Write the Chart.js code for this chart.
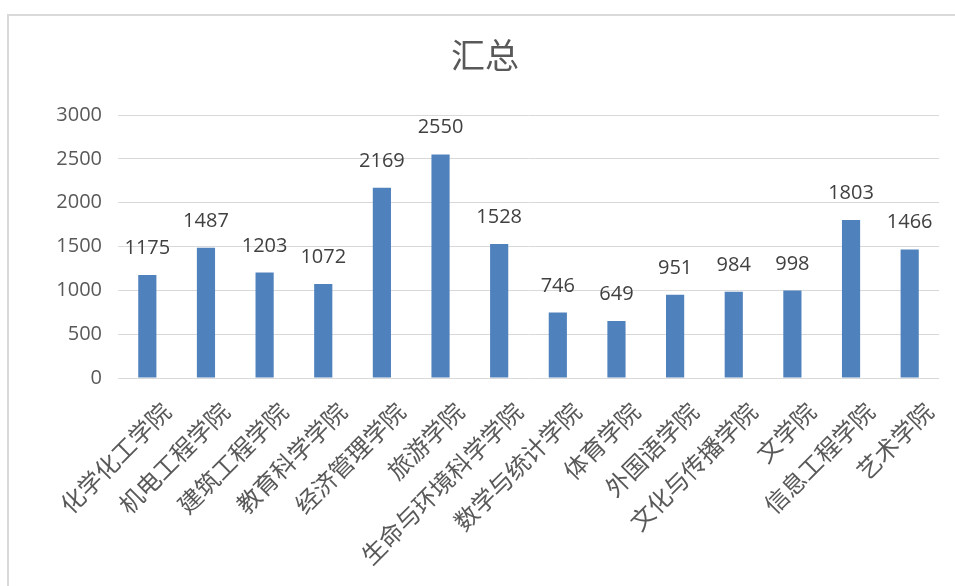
<!DOCTYPE html>
<html>
<head>
<meta charset="utf-8">
<script src="https://cdn.jsdelivr.net/npm/chart.js@4/dist/chart.umd.min.js"></script>
<style>
  html, body { margin: 0; padding: 0; background: #fff; overflow: hidden; }
  #frame { position: absolute; left: 7px; top: 14px; width: 1000px; height: 1000px; border: 2px solid #d9d9d9; box-sizing: border-box; }
  #wrap { position: absolute; left: 0; top: 0; width: 955px; height: 586px; }
</style>
</head>
<body>
<div id="frame"></div>
<div id="wrap"><canvas id="chart"></canvas></div>
<script>
const TITLE = '汇总';
const COLLEGES = [
    '化学化工学院', '机电工程学院', '建筑工程学院', '教育科学学院', '经济管理学院',
    '旅游学院', '生命与环境科学学院', '数学与统计学院', '体育学院', '外国语学院',
    '文化与传播学院', '文学院', '信息工程学院', '艺术学院'
];
const TOTALS = [1175, 1487, 1203, 1072, 2169, 2550, 1528, 746, 649, 951, 984, 998, 1803, 1466];

const NUM_FONT = '"Open Sans", "Noto Sans", sans-serif';
const CJK_FONT = '"Noto Sans CJK SC", sans-serif';

// title and the values printed above each bar
const labels = {
    id: 'labels',
    afterDatasetsDraw(chart) {
        const ctx = chart.ctx;
        const meta = chart.getDatasetMeta(0);
        ctx.save();
        ctx.font = '34px ' + CJK_FONT;
        ctx.fillStyle = '#595959';
        ctx.textAlign = 'center';
        ctx.textBaseline = 'middle';
        ctx.fillText(TITLE, 485, 55);

        ctx.font = '20px ' + NUM_FONT;
        ctx.fillStyle = '#404040';
        ctx.textBaseline = 'alphabetic';
        meta.data.forEach((bar, i) => {
            ctx.fillText(String(TOTALS[i]), bar.x, bar.y - 21);
        });
        ctx.restore();
    }
};

new Chart(document.getElementById('chart'), {
    type: 'bar',
    data: {
        labels: COLLEGES,
        datasets: [{
            data: TOTALS,
            backgroundColor: '#4f81bd',
            borderWidth: 0,
            categoryPercentage: 1,
            barPercentage: 0.31,
        }]
    },
    options: {
        responsive: true,
        maintainAspectRatio: false,
        animation: false,
        layout: { padding: { left: 0, right: 16, top: 115, bottom: 0 } },
        plugins: {
            legend: { display: false },
            tooltip: { enabled: false },
            title: { display: false },
        },
        scales: {
            x: {
                grid: { display: false, drawTicks: false },
                border: { display: false },
                ticks: {
                    color: '#595959',
                    font: { family: CJK_FONT, size: 24 },
                    maxRotation: 45,
                    minRotation: 45,
                    autoSkip: false,
                    padding: 19,
                    labelOffset: 19,
                },
                afterFit(scale) { scale.height = 208; },
            },
            y: {
                min: 0,
                max: 3000,
                grid: { color: '#d9d9d9', lineWidth: 1, drawTicks: false },
                border: { display: false },
                ticks: {
                    stepSize: 500,
                    color: '#595959',
                    font: { family: NUM_FONT, size: 20 },
                    padding: 16,
                    callback: v => String(v),
                },
                afterFit(scale) { scale.width = 118; },
            },
        },
    },
    plugins: [labels],
});
</script>
</body>
</html>
